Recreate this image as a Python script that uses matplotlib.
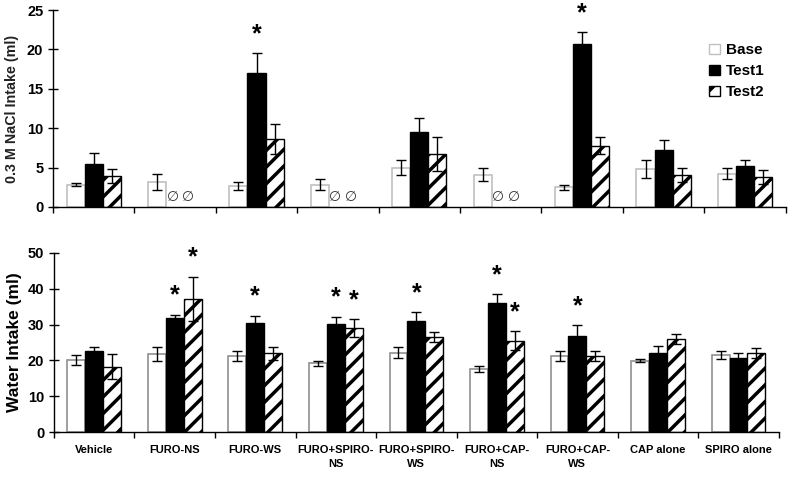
import numpy as np
import matplotlib
matplotlib.use('Agg')
import matplotlib.pyplot as plt
from matplotlib.patches import Patch

plt.rcParams['font.family'] = ['Liberation Sans', 'DejaVu Sans']
plt.rcParams['font.weight'] = 'bold'
plt.rcParams['hatch.linewidth'] = 2.5

groups = ['Vehicle', 'FURO-NS', 'FURO-WS', 'FURO+SPIRO-\nNS', 'FURO+SPIRO-\nWS',
          'FURO+CAP-\nNS', 'FURO+CAP-\nWS', 'CAP alone', 'SPIRO alone']

# 0.3 M NaCl intake (ml); None = no access (marked with a null sign)
nacl_base = [2.8, 3.2, 2.7, 2.8, 5.0, 4.1, 2.5, 4.8, 4.2]
nacl_base_err = [0.2, 1.0, 0.5, 0.7, 0.9, 0.8, 0.3, 1.1, 0.7]
nacl_t1 = [5.4, None, 17.0, None, 9.5, None, 20.7, 7.2, 5.2]
nacl_t1_err = [1.4, 0, 2.5, 0, 1.8, 0, 1.5, 1.3, 0.7]
nacl_t2 = [3.9, None, 8.6, None, 6.7, None, 7.8, 4.1, 3.8]
nacl_t2_err = [0.9, 0, 1.9, 0, 2.2, 0, 1.1, 0.9, 0.9]
nacl_t1_star = [2, 6]
nacl_t2_star = []

# water intake (ml)
w_base = [20.1, 21.8, 21.2, 19.2, 22.2, 17.7, 21.2, 19.9, 21.5]
w_base_err = [1.3, 1.9, 1.3, 0.7, 1.6, 0.8, 1.3, 0.4, 1.0]
w_t1 = [22.6, 31.7, 30.4, 30.2, 31.1, 36.1, 26.8, 22.0, 20.8]
w_t1_err = [1.1, 1.1, 2.1, 2.0, 2.3, 2.3, 3.0, 1.9, 1.2]
w_t2 = [18.2, 37.2, 22.0, 29.0, 26.4, 25.5, 21.1, 26.0, 22.0]
w_t2_err = [3.5, 6.2, 1.8, 2.5, 1.4, 2.6, 1.4, 1.3, 1.4]
w_t1_star = [1, 2, 3, 4, 5, 6]
w_t2_star = [1, 3, 5]

fig = plt.figure(figsize=(7.93, 4.79), dpi=100)
ax1 = fig.add_axes([0.0668, 0.568, 0.924, 0.411])
ax2 = fig.add_axes([0.068, 0.098, 0.914, 0.374])

x = np.arange(len(groups)) + 0.5
w = 0.222


def draw_panel(ax, base, base_err, t1, t1_err, t2, t2_err, s1, s2, base_edge):
    t1v = [0 if v is None else v for v in t1]
    t2v = [0 if v is None else v for v in t2]
    ax.bar(x - w, base, w, yerr=base_err, color='white', edgecolor=base_edge,
           linewidth=1.2, capsize=3.5, error_kw=dict(elinewidth=1, capthick=1), zorder=2)
    mask1 = [v is not None for v in t1]
    mask2 = [v is not None for v in t2]
    ax.bar(x[mask1], np.array(t1v)[mask1], w, yerr=np.array(t1_err)[mask1],
           color='black', edgecolor='black', linewidth=1, capsize=3.5,
           error_kw=dict(elinewidth=1, capthick=1), zorder=2)
    ax.bar(x[mask2] + w, np.array(t2v)[mask2], w, yerr=np.array(t2_err)[mask2],
           color='white', edgecolor='black', hatch='//', linewidth=1, capsize=3.5,
           error_kw=dict(elinewidth=1, capthick=1), zorder=2)
    for i in range(len(groups)):
        if t1[i] is None:
            for dx in (-0.03, w - 0.06):
                ax.annotate('\u2205', (x[i] + dx, 0), xytext=(0, 7), textcoords='offset points',
                            ha='center', va='center', fontsize=10, fontweight='normal',
                            family=['DejaVu Sans'], color='#333333')
    for i in s1:
        ax.annotate('*', (x[i], t1v[i] + t1_err[i]), xytext=(0, 5), textcoords='offset points',
                    ha='center', va='bottom', fontsize=18, fontweight='bold')
    for i in s2:
        ax.annotate('*', (x[i] + w, t2v[i] + t2_err[i]), xytext=(0, 5), textcoords='offset points',
                    ha='center', va='bottom', fontsize=18, fontweight='bold')
    ax.set_xlim(0, len(groups))
    ax.set_xticks(np.arange(len(groups) + 1))
    ax.tick_params(axis='x', direction='out', length=4, width=1, labelbottom=False)
    ax.tick_params(axis='y', direction='inout', length=7, width=1, labelsize=10.5)
    for s in ('top', 'right'):
        ax.spines[s].set_visible(False)
    for s in ('left', 'bottom'):
        ax.spines[s].set_linewidth(1)
    for lab in ax.get_yticklabels():
        lab.set_fontweight('bold')


draw_panel(ax1, nacl_base, nacl_base_err, nacl_t1, nacl_t1_err, nacl_t2, nacl_t2_err,
           nacl_t1_star, nacl_t2_star, '#c0c0c0')
ax1.set_ylim(0, 25)
ax1.set_yticks([0, 5, 10, 15, 20, 25])
ax1.set_ylabel('0.3 M NaCl Intake (ml)', fontsize=10.3, fontweight='bold', color='#222222', labelpad=6)

draw_panel(ax2, w_base, w_base_err, w_t1, w_t1_err, w_t2, w_t2_err,
           w_t1_star, w_t2_star, '#909090')
ax2.set_ylim(0, 50)
ax2.set_yticks([0, 10, 20, 30, 40, 50])
ax2.set_ylabel('Water Intake (ml)', fontsize=12.5, fontweight='bold', labelpad=4)
for i, g in enumerate(groups):
    ax2.annotate(g, (x[i], 0), xytext=(0, -9), textcoords='offset points',
                 ha='center', va='top', fontsize=8, fontweight='bold', linespacing=1.5)

handles = [Patch(facecolor='white', edgecolor='#c0c0c0', label='Base'),
           Patch(facecolor='black', edgecolor='black', label='Test1'),
           Patch(facecolor='white', edgecolor='black', hatch='/', label='Test2')]
ax1.legend(handles=handles, loc='upper right', bbox_to_anchor=(0.99, 0.9), frameon=False,
           handlelength=0.7, handleheight=0.7, handletextpad=0.4, labelspacing=0.45,
           prop=dict(size=11, weight='bold'))

fig.savefig('out.png', dpi=100)
